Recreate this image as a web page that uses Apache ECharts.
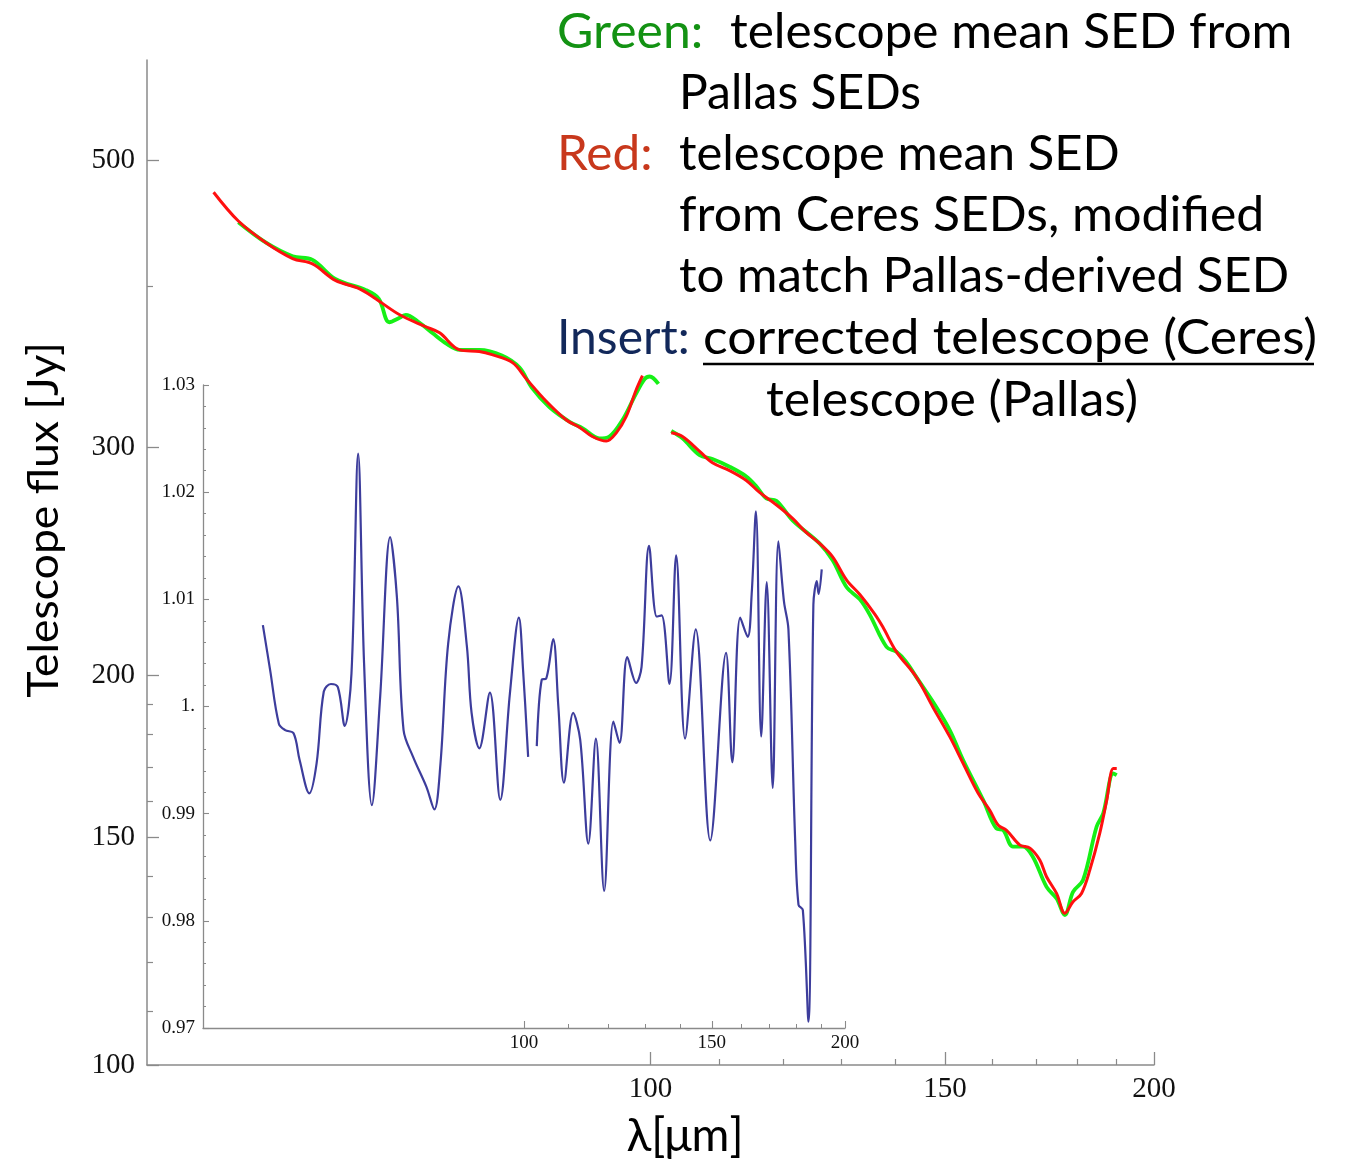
<!DOCTYPE html>
<html>
<head>
<meta charset="utf-8">
<script src="https://cdn.jsdelivr.net/npm/echarts@6/dist/echarts.min.js"></script>
<style>
  html, body { margin: 0; padding: 0; background: #ffffff; }
  #chart { width: 1346px; height: 1160px; }
</style>
</head>
<body>
<div id="chart"></div>
<script>
// Telescope mean SED [Jy] vs wavelength [µm], derived from Pallas SEDs (green)
const greenSed1 = [[56.7,448],[58.9,432],[61.1,421.7],[62.8,419],[64.8,405],[67.6,397],[68.8,391],[69.8,375],[70.8,378],[71.4,380],[72.7,375],[74.1,367.7],[75.5,361],[76.9,357],[79.0,357],[81.5,353.5],[83.5,346],[84.9,334],[87.0,322.5],[89.5,314],[91.1,310.5],[93.2,305],[94.5,306],[96.2,315],[98.0,330],[99.2,339],[99.9,340.5],[101.1,336]];
const greenSed2 = [[102.9,309],[104.5,305],[107.0,296],[108.9,294],[111.5,290],[114.1,285],[115.7,280],[117.3,274],[118.9,273],[121.6,263.6],[126.2,253],[128.5,245.5],[131.0,234],[133.4,229],[135.2,223],[138.4,210.4],[140.3,208.6],[142.2,204.9],[144.2,199.4],[148.2,189.1],[151.0,181.4],[153.8,172.0],[158.1,160.2],[161.0,152.3],[162.5,151.9],[164.7,147.5],[167.0,147.5],[169.3,144.8],[172.5,137.3],[174.9,134.5],[176.9,130.6],[178.9,136.1],[181.4,139.0],[184.8,152.8],[186.5,156.5],[189.1,168.0],[190.0,167.5]];

// Telescope mean SED from Ceres SEDs, modified to match the Pallas-derived SED (red)
const redSed1 = [[54.8,472.6],[56.7,449],[58.9,432],[61.1,420],[62.8,416],[64.8,404],[67.0,398],[68.5,391],[70.8,380],[73.4,372],[74.8,368],[76.9,357],[79.0,356],[80.4,354],[82.7,349],[84.3,339],[86.6,326],[89.1,315],[90.7,311],[92.3,306],[94.1,303.5],[95.4,308],[96.7,317],[98.0,332],[98.9,341]];
const redSed2 = [[102.9,308],[104.5,306],[107.0,298],[108.9,292],[111.5,288],[114.1,283],[116.2,277],[118.9,271],[121.6,264.5],[123.9,258],[126.2,253],[128.5,247],[131.0,237],[133.4,231],[136.2,223],[137.7,218],[140.3,208.6],[144.2,199.4],[147.5,189.1],[151.0,179.3],[153.8,171.0],[157.0,162.2],[159.5,157.4],[161.4,153.2],[163.2,151.9],[166.3,147.9],[168.6,147.1],[170.9,144.0],[172.5,139.8],[174.9,135.7],[176.9,131.0],[178.9,133.7],[181.0,135.7],[183.1,141.5],[185.6,151.0],[187.4,160.2],[189.1,169.5],[190.0,169.5]];

// Insert: corrected telescope (Ceres) / telescope (Pallas)
const ratio1 = [[56.9,1.0076],[57.8,1.0034],[58.9,0.9984],[59.7,0.9978],[60.8,0.9975],[61.6,0.9950],[62.9,0.9919],[63.9,0.9947],[64.9,1.0014],[65.9,1.0021],[66.9,1.0018],[67.9,0.9982],[68.9,1.0031],[69.9,1.0236],[70.8,1.0040],[72.0,0.9908],[73.3,1.0009],[74.9,1.0158],[76.0,1.0102],[77.1,0.9978],[78.7,0.9953],[81.0,0.9925],[82.4,0.9904],[83.5,0.9947],[84.9,1.0059],[86.8,1.0112],[88.4,1.0056],[89.3,0.9994],[90.8,0.9961],[92.9,1.0013],[95.0,0.9913],[97.0,1.0012],[98.9,1.0083],[99.8,1.0034],[100.9,0.9953]];
const ratio2 = [[102.8,0.9963],[103.9,1.0025],[104.9,1.0026],[106.5,1.0063],[107.7,1.0000],[109.0,0.9929],[111.2,0.9994],[112.9,0.9969],[114.9,0.9872],[116.8,0.9970],[118.9,0.9828],[121.3,0.9986],[122.9,0.9966],[125.0,1.0046],[127.4,1.0022],[128.9,1.0037],[131.0,1.0150],[133.2,1.0084],[134.6,1.0085],[136.9,1.0021],[138.9,1.0141],[141.6,0.9970],[144.9,1.0072],[149.5,0.9875],[154.7,1.0050],[156.8,0.9948],[159.5,1.0083],[162.1,1.0065],[163.5,1.0105],[165.0,1.0182],[166.9,0.9972],[168.9,1.0116],[171.1,0.9924],[173.2,1.0154],[175.3,1.0098],[177.0,1.0072],[179.6,0.9875],[180.9,0.9815],[182.6,0.9810],[184.8,0.9706],[186.8,1.0095],[188.2,1.0117],[188.9,1.0105],[190.2,1.0128]];

// Tick positions
const xMajorTicks = [100, 150, 200];
const xMinorTicks = [110, 120, 130, 140, 160, 170, 180, 190];
const yMajorTicks = [100, 150, 200, 300, 500];
const yMinorTicks = [110, 120, 130, 140, 160, 170, 180, 190, 400];

const AXIS_GRAY = '#8a8a8a';
const SERIF = '"Liberation Serif", "Times New Roman", serif';
const SANS = 'Lato, "Open Sans", sans-serif';

// a line broken into two pieces at the gap between segments
function withGap(a, b) {
  const gapX = (a[a.length - 1][0] + b[0][0]) / 2;
  return a.concat([[gapX, null]], b);
}

function logAxis(extra) {
  return Object.assign({
    type: 'log',
    logBase: 10,
    splitLine: { show: false },
    minorTick: { show: false },
    axisLine: { show: true, onZero: false, lineStyle: { color: AXIS_GRAY, width: 1.5 } }
  }, extra);
}

// one line of the annotation block
function note(text, x, y, fill, sx, align) {
  return {
    type: 'text', x: x, y: y, scaleX: sx || 1, z: 10,
    style: { text: text, font: '48px ' + SANS, fill: fill || '#000', align: align || 'left', verticalAlign: 'middle' }
  };
}

const chart = echarts.init(document.getElementById('chart'), null, { renderer: 'canvas' });

const option = {
  backgroundColor: '#ffffff',
  animation: false,
  grid: [
    { left: 147, right: 192, top: 60, bottom: 95 },
    { left: 203, right: 501, top: 385, bottom: 132 }
  ],
  xAxis: [
    // main wavelength axis
    logAxis({
      gridIndex: 0, min: 50, max: 200, position: 'bottom',
      axisTick: { show: true, inside: true, length: 13, customValues: xMajorTicks, lineStyle: { color: AXIS_GRAY, width: 1.3 } },
      axisLabel: { show: true, customValues: xMajorTicks, margin: 10, fontSize: 29, fontFamily: SERIF, color: '#111',
        formatter: v => String(Math.round(v)) }
    }),
    logAxis({
      gridIndex: 0, min: 50, max: 200, position: 'bottom',
      axisLine: { show: false },
      axisTick: { show: true, inside: true, length: 6, customValues: xMinorTicks, lineStyle: { color: AXIS_GRAY, width: 1.2 } },
      axisLabel: { show: false }
    }),
    // inset wavelength axis
    logAxis({
      gridIndex: 1, min: 50, max: 200, position: 'bottom',
      axisLine: { show: true, onZero: false, lineStyle: { color: AXIS_GRAY, width: 1.3 } },
      axisTick: { show: true, inside: true, length: 7, customValues: xMajorTicks, lineStyle: { color: AXIS_GRAY, width: 1.1 } },
      axisLabel: { show: true, customValues: xMajorTicks, margin: 6, fontSize: 19, fontFamily: SERIF, color: '#111',
        formatter: v => String(Math.round(v)) }
    }),
    logAxis({
      gridIndex: 1, min: 50, max: 200, position: 'bottom',
      axisLine: { show: false },
      axisTick: { show: true, inside: true, length: 4, customValues: xMinorTicks, lineStyle: { color: AXIS_GRAY, width: 1 } },
      axisLabel: { show: false }
    })
  ],
  yAxis: [
    // main flux axis
    logAxis({
      gridIndex: 0, min: 100, max: 598, position: 'left',
      axisTick: { show: true, inside: true, length: 12, customValues: yMajorTicks, lineStyle: { color: AXIS_GRAY, width: 1.3 } },
      axisLabel: { show: true, customValues: yMajorTicks, margin: 12, fontSize: 29, fontFamily: SERIF, color: '#111',
        formatter: v => String(Math.round(v)) }
    }),
    logAxis({
      gridIndex: 0, min: 100, max: 598, position: 'left',
      axisLine: { show: false },
      axisTick: { show: true, inside: true, length: 6, customValues: yMinorTicks, lineStyle: { color: AXIS_GRAY, width: 1.2 } },
      axisLabel: { show: false }
    }),
    // inset ratio axis
    {
      type: 'value', gridIndex: 1, min: 0.97, max: 1.03, interval: 0.01, position: 'left',
      splitLine: { show: false },
      axisLine: { show: true, onZero: false, lineStyle: { color: AXIS_GRAY, width: 1.3 } },
      axisTick: { show: true, inside: true, length: 6, lineStyle: { color: AXIS_GRAY, width: 1.1 } },
      minorTick: { show: true, splitNumber: 5, length: 3, lineStyle: { color: AXIS_GRAY, width: 1 } },
      axisLabel: { show: true, margin: 8, fontSize: 19, fontFamily: SERIF, color: '#111',
        formatter: v => (Math.abs(v - 1) < 1e-9 ? '1.' : v.toFixed(2)) }
    }
  ],
  series: [
    {
      name: 'ratio', type: 'line', xAxisIndex: 2, yAxisIndex: 2,
      data: withGap(ratio1, ratio2), connectNulls: false,
      smooth: 0.35, showSymbol: false, symbol: 'none',
      lineStyle: { color: '#3d3d9c', width: 2.2 }, z: 2
    },
    {
      name: 'green', type: 'line', xAxisIndex: 0, yAxisIndex: 0,
      data: withGap(greenSed1, greenSed2), connectNulls: false,
      smooth: 0.35, showSymbol: false, symbol: 'none',
      lineStyle: { color: '#16f016', width: 3.8 }, z: 3
    },
    {
      name: 'red', type: 'line', xAxisIndex: 0, yAxisIndex: 0,
      data: withGap(redSed1, redSed2), connectNulls: false,
      smooth: 0.35, showSymbol: false, symbol: 'none',
      lineStyle: { color: '#ff1010', width: 3 }, z: 4
    }
  ],
  graphic: [
    // axis titles
    { type: 'text', x: 44, y: 520, rotation: Math.PI / 2, scaleX: 1.06, z: 10,
      style: { text: 'Telescope flux [Jy]', font: '42px ' + SANS, fill: '#000', align: 'center', verticalAlign: 'middle' } },
    { type: 'text', x: 685, y: 1136, z: 10,
      style: { text: 'λ[μm]', font: '46px ' + SANS, fill: '#000', align: 'center', verticalAlign: 'middle' } },
    // annotation block
    note('Green:', 557, 33, '#139213', 1.04),
    note('telescope mean SED from', 730, 33, '#000', 1.033),
    note('Pallas SEDs', 679, 94, '#000', 1.0),
    note('Red:', 557, 155, '#c8381c', 1.03),
    note('telescope mean SED', 679, 155, '#000', 1.02),
    note('from Ceres SEDs, modified', 679, 216, '#000', 1.04),
    note('to match Pallas-derived SED', 679, 277, '#000', 1.024),
    note('Insert:', 557, 339, '#12285a', 1.0),
    note('corrected telescope (Ceres)', 703, 339, '#000', 1.076),
    { type: 'line', z: 10, shape: { x1: 703, y1: 364, x2: 1314, y2: 364 }, style: { stroke: '#000', lineWidth: 2.5 } },
    note('telescope (Pallas)', 952, 401, '#000', 1.04, 'center')
  ]
};

chart.setOption(option);
</script>
</body>
</html>
